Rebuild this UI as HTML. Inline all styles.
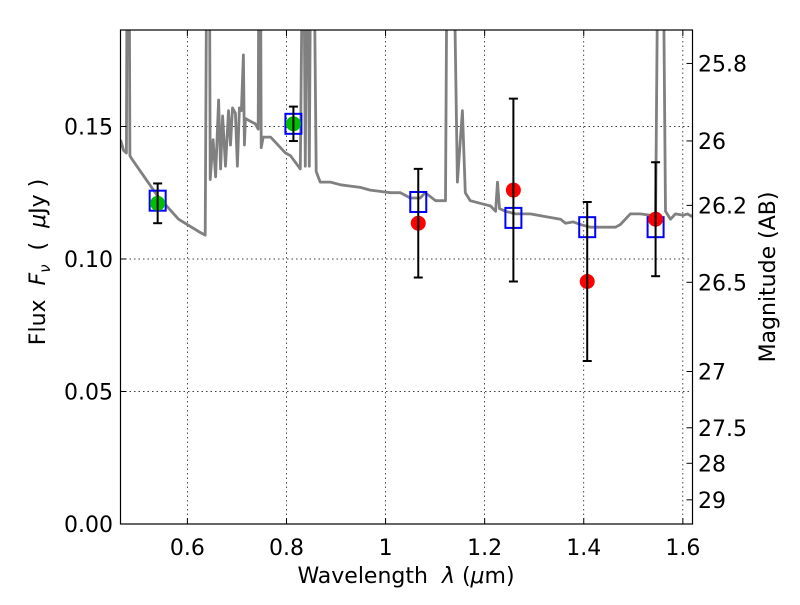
<!DOCTYPE html>
<html><head><meta charset="utf-8"><style>
body{margin:0;background:#fff;}
svg text{font-family:"DejaVu Sans","Liberation Sans",sans-serif;fill:#000;}
</style></head><body>
<svg id="chart" width="800" height="600" viewBox="0 0 800 600" xmlns="http://www.w3.org/2000/svg">
<rect width="800" height="600" fill="#fff"/>
<defs><clipPath id="plotclip"><rect x="120.5" y="30" width="572" height="494"/></clipPath></defs>
<g id="grid"></g>
<g id="spec" clip-path="url(#plotclip)"></g>
<g id="marks"></g>
<rect x="120.5" y="30" width="572" height="494" fill="none" stroke="#000" stroke-width="1.2"/>
<g id="axes"></g>
<text x="406" y="583" font-size="22" text-anchor="middle" xml:space="preserve">Wavelength  <tspan font-style="italic">λ</tspan> (<tspan font-style="italic">μ</tspan>m)</text>
<text transform="translate(45,262) rotate(-90)" font-size="22" text-anchor="middle" xml:space="preserve">Flux  <tspan font-style="italic">F</tspan><tspan font-style="italic" font-size="15" dy="5">ν</tspan><tspan dy="-5">  (  </tspan><tspan font-style="italic">μ</tspan>Jy )</text>
<text transform="translate(775,277) rotate(-90)" font-size="22" text-anchor="middle">Magnitude (AB)</text>
</svg>
<script>
const xTicks=[0.6,0.8,1.0,1.2,1.4,1.6];
const xTickLabels=["0.6","0.8","1","1.2","1.4","1.6"];
const yTicks=[0,0.05,0.10,0.15];
const yTickLabels=["0.00","0.05","0.10","0.15"];
const magTicks=[25.8,26,26.2,26.5,27,27.5,28,29];
const magTickLabels=["25.8","26","26.2","26.5","27","27.5","28","29"];
const specWave=[0.465,0.471,0.477,0.479,0.482,0.484,0.487,0.539,0.582,0.626,0.636,0.640,0.642,0.644,0.646,0.652,0.657,0.663,0.667,0.671,0.677,0.683,0.687,0.691,0.697,0.701,0.705,0.709,0.713,0.715,0.717,0.727,0.737,0.743,0.745,0.747,0.749,0.753,0.768,0.778,0.788,0.798,0.808,0.828,0.834,0.838,0.842,0.846,0.850,0.854,0.860,0.868,0.889,0.909,0.929,0.949,0.969,0.989,1.010,1.030,1.050,1.070,1.080,1.101,1.121,1.125,1.135,1.145,1.155,1.161,1.171,1.191,1.212,1.222,1.226,1.230,1.242,1.262,1.292,1.323,1.353,1.363,1.379,1.393,1.413,1.434,1.464,1.474,1.494,1.514,1.535,1.545,1.551,1.559,1.565,1.575,1.585,1.601,1.609,1.619];
const specFlux=[0.145,0.141,0.140,0.25,0.25,0.139,0.138,0.124,0.115,0.110,0.109,0.25,0.25,0.25,0.130,0.145,0.131,0.160,0.134,0.154,0.135,0.156,0.143,0.157,0.155,0.135,0.157,0.156,0.177,0.143,0.153,0.152,0.151,0.149,0.25,0.25,0.142,0.146,0.146,0.144,0.142,0.140,0.139,0.134,0.25,0.135,0.25,0.135,0.25,0.25,0.133,0.129,0.129,0.128,0.1275,0.127,0.126,0.1255,0.125,0.125,0.123,0.123,0.125,0.122,0.122,0.25,0.25,0.129,0.156,0.125,0.122,0.121,0.120,0.118,0.129,0.119,0.118,0.117,0.117,0.116,0.115,0.1135,0.114,0.113,0.112,0.112,0.112,0.113,0.117,0.117,0.1165,0.1165,0.25,0.25,0.118,0.115,0.117,0.1165,0.117,0.116];
const obsWave=[0.540,0.814,1.066,1.258,1.407,1.545];
const obsFlux=[0.121,0.151,0.1135,0.126,0.0915,0.115];
const obsErr=[0.0075,0.0065,0.0205,0.0345,0.030,0.0215];
const obsKind=["green","green","red","red","red","red"];
const modelFlux=[0.122,0.151,0.1215,0.1155,0.112,0.112];

const NS="http://www.w3.org/2000/svg";
const X0=120.5,X1=692.5,Y0=524,Y1=30;
const xmin=0.465,xmax=1.6195,ymin=0,ymax=0.1864;
function sx(v){return X0+(v-xmin)/(xmax-xmin)*(X1-X0);}
function sy(v){return Y0-(v-ymin)/(ymax-ymin)*(Y0-Y1);}
function magToFlux(m){return Math.pow(10,(23.9-m)/2.5);}
function mk(tag,attrs,parent){const e=document.createElementNS(NS,tag);for(const k in attrs)e.setAttribute(k,attrs[k]);parent.appendChild(e);return e;}
const grid=document.getElementById('grid'),axes=document.getElementById('axes'),spec=document.getElementById('spec'),marks=document.getElementById('marks');

xTicks.forEach((t,i)=>{const x=sx(t);
 const g=mk('line',{x1:x,x2:x,y1:Y0,y2:Y1,stroke:'#000','stroke-width':0.7,'stroke-dasharray':'1.5,3'},grid);
 
 mk('line',{x1:x,x2:x,y1:Y0,y2:Y0-6,stroke:'#000'},axes);
 mk('line',{x1:x,x2:x,y1:Y1,y2:Y1+6,stroke:'#000'},axes);
 const tx=mk('text',{x:x,y:555,'font-size':22,'text-anchor':'middle'},axes);tx.textContent=xTickLabels[i];
 
});
yTicks.forEach((t,i)=>{const y=sy(t);
 const g=mk('line',{x1:X0,x2:X1,y1:y,y2:y,stroke:'#000','stroke-width':0.7,'stroke-dasharray':'1.5,3'},grid);
 
 mk('line',{x1:X0,x2:X0+6,y1:y,y2:y,stroke:'#000'},axes);
 const tx=mk('text',{x:113,y:y+8,'font-size':22,'text-anchor':'end'},axes);tx.textContent=yTickLabels[i];
 
});
magTicks.forEach((m,i)=>{const y=sy(magToFlux(m));
 mk('line',{x1:X1,x2:X1-6,y1:y,y2:y,stroke:'#000'},axes);
 const tx=mk('text',{x:698,y:y+8,'font-size':22,'text-anchor':'start'},axes);tx.textContent=magTickLabels[i];
 
});
let d='';specWave.forEach((w,i)=>{d+=(i?'L':'M')+sx(w).toFixed(1)+','+sy(specFlux[i]).toFixed(1);});
const sp=mk('path',{d:d,fill:'none',stroke:'#808080','stroke-width':2.8,'stroke-linejoin':'round'},spec);


obsWave.forEach((w,i)=>{const x=sx(w);
 const sq=mk('rect',{x:x-8,y:sy(modelFlux[i])-10,width:16,height:20,fill:'none',stroke:'#0000ff','stroke-width':2},marks);
 
});
obsWave.forEach((w,i)=>{const x=sx(w),y=sy(obsFlux[i]);
 const c=mk('circle',{cx:x,cy:y,r:7.5,fill:obsKind[i]==='green'?'#00bf00':'#ff0000'},marks);
 
 const yt=sy(obsFlux[i]+obsErr[i]),yb=sy(obsFlux[i]-obsErr[i]);
 const e=mk('g',{},marks);
 
 mk('line',{x1:x,x2:x,y1:yt,y2:yb,stroke:'#000','stroke-width':2},e);
 mk('line',{x1:x-4.5,x2:x+4.5,y1:yt,y2:yt,stroke:'#000','stroke-width':2},e);
 mk('line',{x1:x-4.5,x2:x+4.5,y1:yb,y2:yb,stroke:'#000','stroke-width':2},e);
});
</script>
</body></html>
